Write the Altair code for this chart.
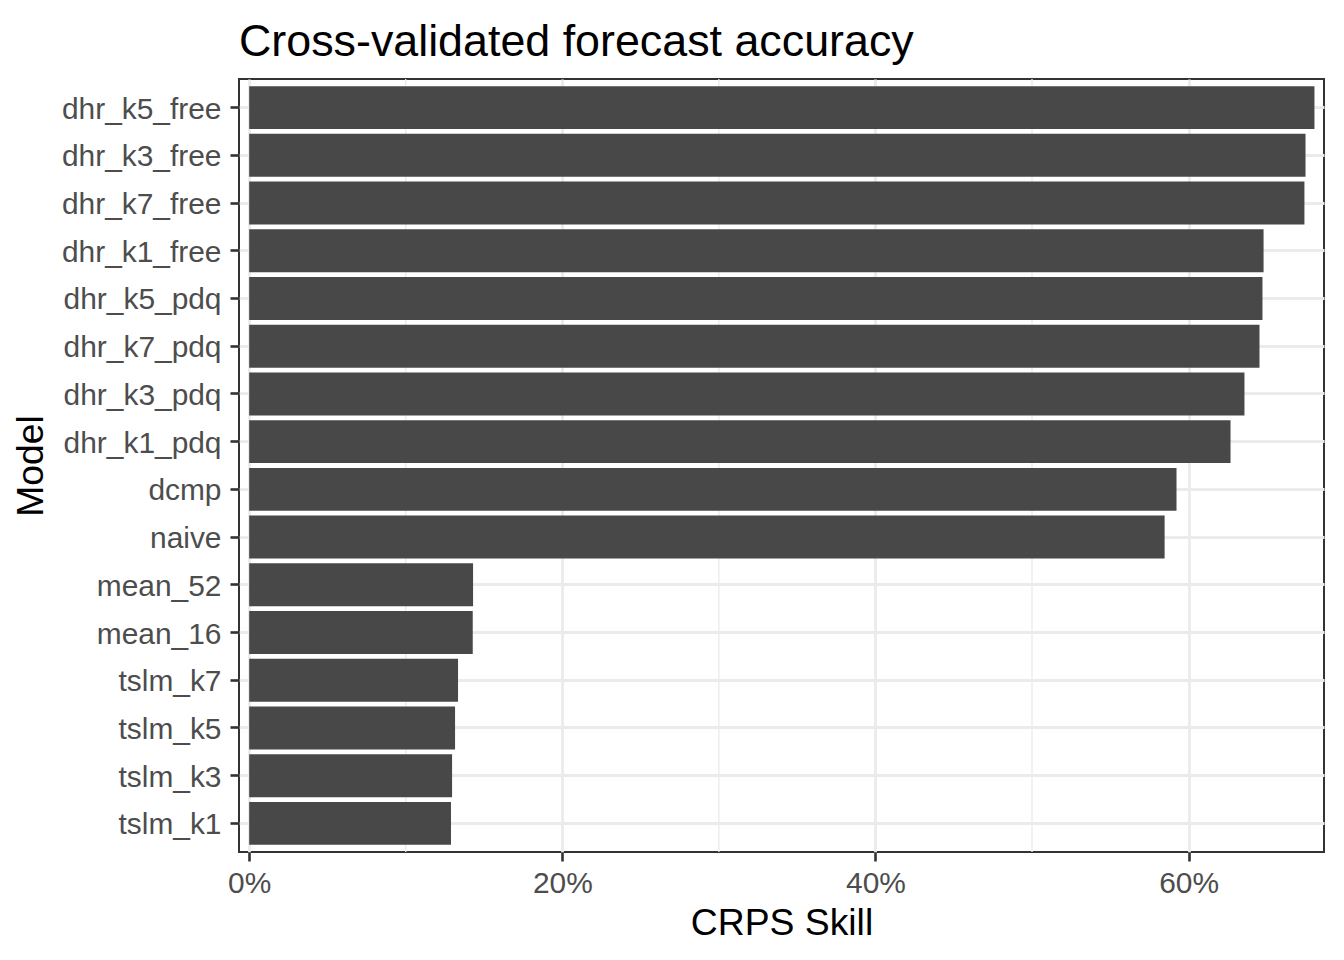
import altair as alt
import pandas as pd

models = ["dhr_k5_free", "dhr_k3_free", "dhr_k7_free", "dhr_k1_free",
          "dhr_k5_pdq", "dhr_k7_pdq", "dhr_k3_pdq", "dhr_k1_pdq",
          "dcmp", "naive", "mean_52", "mean_16",
          "tslm_k7", "tslm_k5", "tslm_k3", "tslm_k1"]
skill = [0.6804, 0.6747, 0.6740, 0.6479, 0.6472, 0.6453, 0.6357, 0.6268,
         0.5923, 0.5847, 0.1430, 0.1428, 0.1334, 0.1315, 0.1296, 0.1289]
major_ticks = [0.0, 0.2, 0.4, 0.6]
minor_ticks = [0.1, 0.3, 0.5]

df = pd.DataFrame({"model": models, "skill": skill})
minor_df = pd.DataFrame({"v": minor_ticks})

FONT = "Liberation Sans"
GRID = "#EBEBEB"

xscale = alt.Scale(domain=[-0.0065, 0.6865], nice=False, zero=False)
yscale = alt.Scale(domain=models, paddingInner=0.1, paddingOuter=0.15)

minor = alt.Chart(minor_df).mark_rule(color=GRID, strokeWidth=1.4).encode(
    x=alt.X("v:Q", scale=xscale),
)

bars = alt.Chart(df).mark_bar(color="#484848").encode(
    x=alt.X("skill:Q", scale=xscale,
            axis=alt.Axis(values=major_ticks, format=".0%", title="CRPS Skill",
                          grid=True, gridColor=GRID, gridWidth=2.8,
                          domain=False, tickColor="#333333", tickWidth=2.6,
                          tickSize=9, labelPadding=7, labelFontSize=29.9,
                          labelColor="#4D4D4D", labelFont=FONT,
                          titleFont=FONT, titleFontSize=37.3, titleFontWeight="normal",
                          titleColor="black", titleBaseline="alphabetic",
                          titleY=82, titleX=542.5, titleAnchor="middle")),
    y=alt.Y("model:N", scale=yscale, sort=models,
            axis=alt.Axis(title="Model", bandPosition=0.5,
                          grid=True, gridColor=GRID, gridWidth=2.8,
                          domain=False, tickColor="#333333", tickWidth=2.6,
                          tickSize=9, labelPadding=9, labelFontSize=29.9,
                          labelOffset=2,
                          labelColor="#4D4D4D", labelFont=FONT,
                          titleFont=FONT, titleFontSize=37.3, titleFontWeight="normal",
                          titleColor="black", titleAngle=270,
                          titleBaseline="alphabetic", titleX=-197, titleY=386.5,
                          titleAnchor="middle")),
)

chart = alt.layer(minor, bars).properties(
    width=1085,
    height=773,
    background="white",
    autosize=alt.AutoSizeParams(type="none"),
    padding={"left": 231, "top": 71, "right": 12, "bottom": 100},
    title=alt.TitleParams("Cross-validated forecast accuracy", anchor="start",
                          font=FONT, fontSize=44.8, fontWeight="normal",
                          color="black", offset=27, baseline="alphabetic",
                          frame="group", dy=49),
).configure_view(stroke="#333333", strokeWidth=2)

chart.save("out.html", embed_options={"renderer": "svg", "actions": False})
